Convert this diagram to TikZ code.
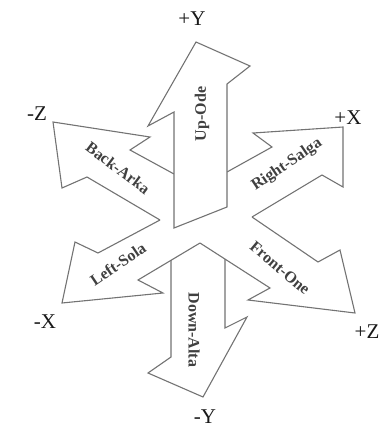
\documentclass[tikz,border=0pt]{standalone}
\usepackage{fontspec}
\setmainfont{Liberation Serif}
\usepackage{xcolor}
\usetikzlibrary{calc}

\begin{document}
\begin{tikzpicture}[x=1pt, y=-1pt,
  arrowbody/.style={draw=gray!90!black, line width=1.1pt, fill=white, line join=miter},
  axislabel/.style={font=\fontsize{21}{23}\selectfont, inner sep=0pt, text=black!90},
  arrowtext/.style={font=\fontsize{16}{18}\selectfont\bfseries, inner sep=0pt, text=black!75}]

  \useasboundingbox (0,0) rectangle (381,434);

  % Key coordinates where the arrows meet in the middle
  \coordinate (BU) at (174,174);    % Back meets Up
  \coordinate (BL) at (160,220);    % Back meets Left
  \coordinate (LF) at (200,243);    % Left meets Front
  \coordinate (FR) at (252,217);    % Front meets Right
  \coordinate (RU) at (227,172);    % Right meets Up

  % --- DOWN ARROW (-Y), sits behind the others ---
  \draw[arrowbody] (171,260) -- (171,357) -- (148,373) -- (203,397) -- (247,317) -- (225,328) -- (225,259);

  % --- LEFT ARROW (-X) ---
  \draw[arrowbody] (BL) -- (98,253) -- (75,242) -- (62,303) -- (163,293) -- (138,280) -- (LF);

  % --- FRONT ARROW (+Z) ---
  \draw[arrowbody] (LF) -- (270,288) -- (248,300) -- (355,313) -- (340,250) -- (318,262) -- (FR);

  % --- RIGHT ARROW (+X) ---
  \draw[arrowbody] (FR) -- (322,175) -- (343,187) -- (343,127) -- (253,133) -- (272,147) -- (RU);

  % --- BACK ARROW (-Z) ---
  \draw[arrowbody] (BU) -- (130,150) -- (150,137) -- (53,122) -- (62,188) -- (87,177) -- (BL);

  % --- UP ARROW (+Y), in front ---
  \draw[arrowbody] (174,228) -- (174,112) -- (148,126) -- (196,42) -- (250,66) -- (227,84) -- (227,207) -- cycle;

  % Arrow names
  \node[arrowtext, rotate=90]  (tup)    at (202,114) {Up-Ode};
  \node[arrowtext, rotate=-37] (tback)  at (118,168) {Back-Arka};
  \node[arrowtext, rotate=34]  (tright) at (287,165) {Right-Salga};
  \node[arrowtext, rotate=34]  (tleft)  at (118,264) {Left-Sola};
  \node[arrowtext, rotate=-40] (tfront) at (280,268) {Front-One};
  \node[arrowtext, rotate=-90] (tdown)  at (194,330) {Down-Alta};

  % Axis labels
  \node[axislabel] (py) at (192,19)  {+Y};
  \node[axislabel] (nz) at (37,114)  {-Z};
  \node[axislabel] (px) at (348,118) {+X};
  \node[axislabel] (nx) at (45,322)  {-X};
  \node[axislabel] (pz) at (367,332) {+Z};
  \node[axislabel] (ny) at (205,417) {-Y};
\end{tikzpicture}
\end{document}
